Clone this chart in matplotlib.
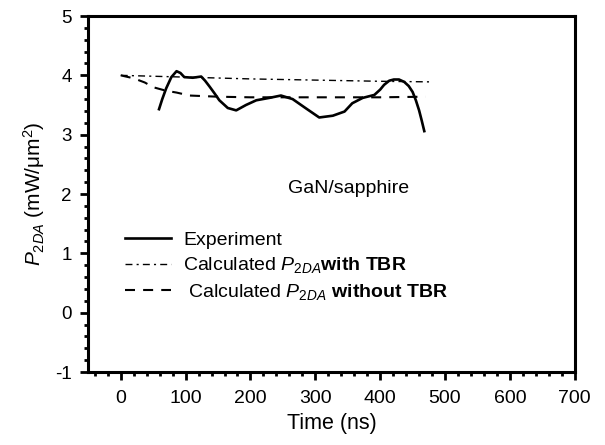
import matplotlib
matplotlib.use("Agg")
import matplotlib.pyplot as plt
from matplotlib.ticker import MultipleLocator

plt.rcParams['font.family'] = ['Liberation Sans', 'DejaVu Sans']
plt.rcParams['mathtext.fontset'] = 'custom'
plt.rcParams['mathtext.rm'] = 'Liberation Sans'
plt.rcParams['mathtext.it'] = 'Liberation Sans:italic'
plt.rcParams['mathtext.bf'] = 'Liberation Sans:bold'
plt.rcParams['axes.unicode_minus'] = False

# experiment
exp_t = [59, 64, 70, 78, 86, 92, 98, 111, 124, 130, 137, 145, 152, 165, 178, 193, 209,
         229, 247, 265, 286, 306, 327, 345, 357, 373, 391, 400, 406, 414, 421, 429,
         437, 444, 450, 455, 460, 464, 468]
exp_p = [3.43, 3.60, 3.78, 3.97, 4.07, 4.04, 3.97, 3.96, 3.98, 3.91, 3.81, 3.69, 3.58,
         3.45, 3.41, 3.50, 3.58, 3.62, 3.66, 3.60, 3.44, 3.29, 3.32, 3.39, 3.53, 3.62,
         3.67, 3.76, 3.84, 3.91, 3.93, 3.93, 3.89, 3.82, 3.72, 3.58, 3.41, 3.24, 3.06]

# calculated with TBR
tbr_t = [0, 100, 200, 300, 400, 478]
tbr_p = [4.00, 3.97, 3.94, 3.92, 3.90, 3.89]

# calculated without TBR
notbr_t = [0, 20, 37, 50, 70, 86, 106, 150, 200, 300, 400, 470]
notbr_p = [4.00, 3.95, 3.88, 3.80, 3.74, 3.71, 3.66, 3.64, 3.63, 3.63, 3.63, 3.64]

fig = plt.figure(figsize=(6.05, 4.45), dpi=100)
ax = fig.add_axes([0.146, 0.164, 0.804, 0.800])

ax.plot(exp_t, exp_p, color='black', lw=1.9, label='Experiment')
ax.plot(tbr_t, tbr_p, color='black', lw=1.0, dashes=(5, 3, 1.5, 3),
        label=r'Calculated $P_{2DA}$$\mathbf{with\ TBR}$')
ax.plot(notbr_t, notbr_p, color='black', lw=1.5, dashes=(4.8, 3.9),
        label=r' Calculated $P_{2DA}$ $\mathbf{without\ TBR}$')

ax.text(351, 2.1, 'GaN/sapphire', fontsize=14, ha='center', va='center')

ax.set_xlim(-50, 700)
ax.set_ylim(-1, 5)
ax.xaxis.set_major_locator(MultipleLocator(100))
ax.xaxis.set_minor_locator(MultipleLocator(20))
ax.yaxis.set_major_locator(MultipleLocator(1))
ax.yaxis.set_minor_locator(MultipleLocator(0.2))
ax.tick_params(which='both', direction='out', top=False, right=False, width=2)
ax.tick_params(which='major', length=6)
ax.tick_params(which='minor', length=3)
ax.tick_params(axis='x', labelsize=14, pad=7)
ax.tick_params(axis='y', labelsize=13.5, pad=6)
for s in ax.spines.values():
    s.set_linewidth(2.2)

ax.set_xlabel('Time (ns)', fontsize=15.5, labelpad=4)
ax.set_ylabel(r'$P_{2DA}$ (mW/μm$^2$)', fontsize=15, labelpad=6)

ax.legend(loc='upper left', bbox_to_anchor=(0.075, 0.395), frameon=False,
          fontsize=14, handlelength=2.4, handletextpad=0.6, labelspacing=0.33,
          borderpad=0, borderaxespad=0)

fig.savefig('out.png', dpi=100)
